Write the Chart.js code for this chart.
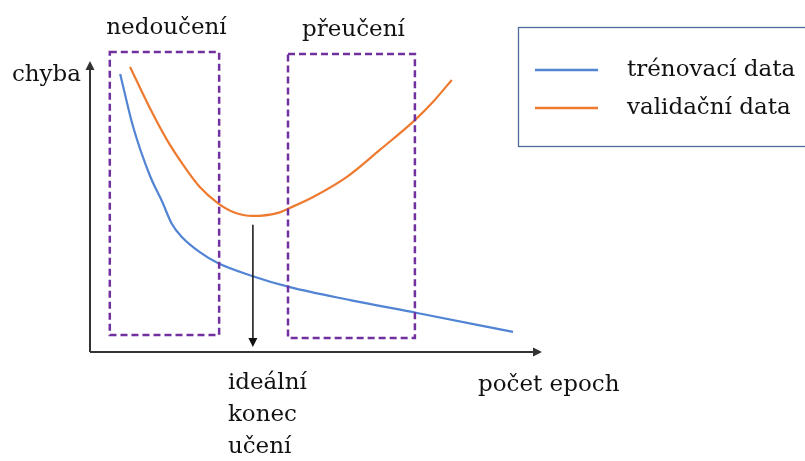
<!DOCTYPE html>
<html><head><meta charset="utf-8">
<script src="https://cdn.jsdelivr.net/npm/chart.js@4/dist/chart.umd.min.js"></script>
<style>html,body{margin:0;padding:0;background:#fff}#wrap{width:805px;height:461px}</style>
</head><body><div id="wrap"><canvas id="c" width="805" height="461"></canvas></div>
<script>
// x = epochs (relative units), y = error (relative units)
const trainX = [6.7, 9.6, 13.3, 16.0, 18.2, 20.4, 24.4, 28.4, 36, 44.4, 57.8, 72.7, 94];
const trainY = [96.9, 78.4, 61.5, 52.5, 44.6, 40.1, 34.8, 31.0, 26.5, 22.6, 18.1, 13.6, 7.0];
const validX = [8.9, 13.3, 17.1, 20.7, 24.4, 28.4, 31.8, 36.2, 41.6, 44.4, 49.6, 57.1, 64.4, 72.2, 76.2, 80.4];
const validY = [99.3, 85.0, 73.9, 65.2, 57.5, 51.9, 48.8, 47.4, 48.4, 50.2, 54.0, 61.0, 70.4, 80.8, 87.1, 94.8];
const seriesLabels = ['trénovací data', 'validační data'];
const regionLabels = ['nedoučení', 'přeučení'];
const regionX = [[4.4, 28.7], [44, 72.2]];
const regionY = [[5.9, 104.5], [4.9, 103.8]];
const idealEpoch = 36.2;
const idealLabel = ['ideální', 'konec', 'učení'];
const yTitle = 'chyba';
const xTitle = 'počet epoch';

const BLUE = '#5284d4', ORANGE = '#ee7a30', PURPLE = '#7030a0', AXIS = '#333333';
const FONT = '23px "DejaVu Serif"';

function arrowHead(ctx, x, y, dir) {
  ctx.save(); ctx.translate(x, y); ctx.rotate(dir);
  ctx.beginPath(); ctx.moveTo(0, 0); ctx.lineTo(-9, -4.5); ctx.lineTo(-9, 4.5); ctx.closePath(); ctx.fill();
  ctx.restore();
}

const deco = {
  id: 'deco',
  afterDraw(chart) {
    const ctx = chart.ctx, xs = chart.scales.x, ys = chart.scales.y;
    const ca = chart.chartArea;
    ctx.save();
    // axes
    ctx.strokeStyle = AXIS; ctx.fillStyle = AXIS; ctx.lineWidth = 2;
    ctx.beginPath(); ctx.moveTo(ca.left, ca.bottom); ctx.lineTo(ca.left, ca.top + 4); ctx.stroke();
    arrowHead(ctx, ca.left, ca.top - 4, -Math.PI / 2);
    ctx.beginPath(); ctx.moveTo(ca.left, ca.bottom); ctx.lineTo(ca.right - 4, ca.bottom); ctx.stroke();
    arrowHead(ctx, ca.right + 2, ca.bottom, 0);
    // region boxes
    ctx.strokeStyle = PURPLE; ctx.lineWidth = 2.5; ctx.setLineDash([7, 4]);
    ctx.font = FONT; ctx.fillStyle = '#111';
    regionX.forEach((rx, i) => {
      const l = xs.getPixelForValue(rx[0]), r = xs.getPixelForValue(rx[1]);
      const b = ys.getPixelForValue(regionY[i][0]), t = ys.getPixelForValue(regionY[i][1]);
      ctx.strokeRect(l, t, r - l, b - t);
    });
    ctx.setLineDash([]);
    ctx.textAlign = 'center'; ctx.textBaseline = 'middle';
    regionX.forEach((rx, i) => {
      const cx = (xs.getPixelForValue(rx[0]) + xs.getPixelForValue(rx[1])) / 2;
      ctx.fillText(regionLabels[i], cx + 2, ys.getPixelForValue(regionY[i][1]) - 24);
    });
    // ideal arrow
    const ix = xs.getPixelForValue(idealEpoch);
    ctx.strokeStyle = '#111'; ctx.fillStyle = '#111'; ctx.lineWidth = 1.5;
    ctx.beginPath(); ctx.moveTo(ix, ys.getPixelForValue(44.3)); ctx.lineTo(ix, ca.bottom - 12); ctx.stroke();
    arrowHead(ctx, ix, ca.bottom - 5, Math.PI / 2);
    ctx.textAlign = 'left';
    idealLabel.forEach((s, k) => ctx.fillText(s, ix - 25, ca.bottom + 31 + k * 32));
    // axis titles
    ctx.textAlign = 'right';
    ctx.fillText(yTitle, ca.left - 9, ca.top + 10);
    ctx.textAlign = 'left';
    ctx.fillText(xTitle, ca.right - 62, ca.bottom + 33);
    // legend
    ctx.strokeStyle = '#4e6b9a'; ctx.lineWidth = 1.3;
    ctx.strokeRect(518.5, 27.5, 300, 119);
    const cols = [BLUE, ORANGE];
    seriesLabels.forEach((s, k) => {
      const y = 70 + k * 38;
      ctx.strokeStyle = cols[k]; ctx.lineWidth = 2.5;
      ctx.beginPath(); ctx.moveTo(535, y); ctx.lineTo(598, y); ctx.stroke();
      ctx.fillStyle = '#111';
      ctx.fillText(s, 627, y);
    });
    ctx.restore();
  }
};

const toPts = (xa, ya) => xa.map((x, i) => ({ x, y: ya[i] }));
new Chart(document.getElementById('c'), {
  type: 'line',
  data: {
    datasets: [
      { label: seriesLabels[0], data: toPts(trainX, trainY), borderColor: BLUE, borderWidth: 2.2, pointRadius: 0, cubicInterpolationMode: 'monotone', fill: false },
      { label: seriesLabels[1], data: toPts(validX, validY), borderColor: ORANGE, borderWidth: 2.2, pointRadius: 0, cubicInterpolationMode: 'monotone', fill: false }
    ]
  },
  options: {
    responsive: false, animation: false,
    layout: { padding: { left: 90, top: 65, right: 265, bottom: 109 } },
    scales: {
      x: { type: 'linear', min: 0, max: 100, display: false },
      y: { type: 'linear', min: 0, max: 100, display: false }
    },
    plugins: { legend: { display: false }, tooltip: { enabled: false } }
  },
  plugins: [deco]
});
</script></body></html>
